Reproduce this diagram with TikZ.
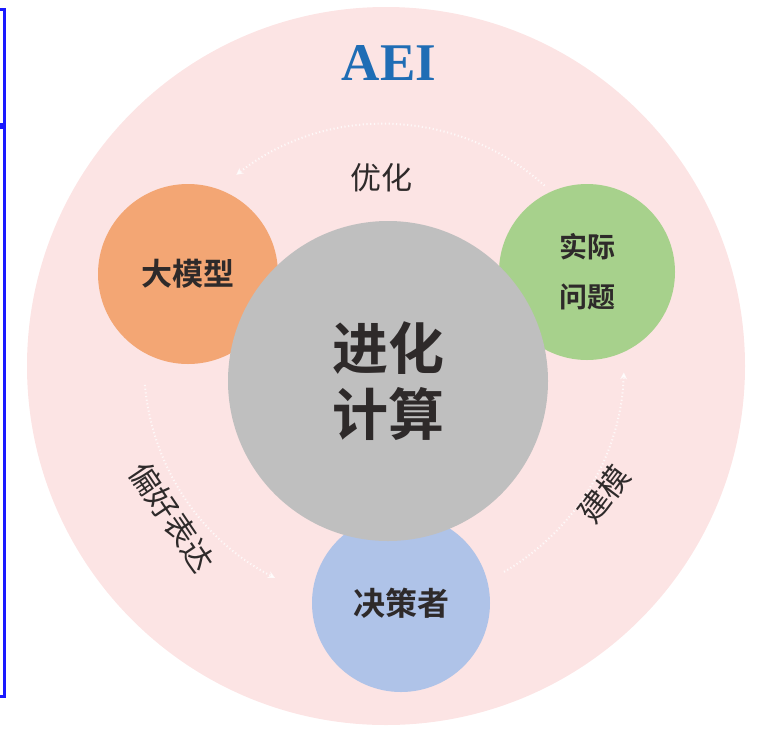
\documentclass[tikz,border=0pt]{standalone}
\usepackage{fontspec}
\setmainfont{Liberation Serif}
\newfontfamily\cjk{Noto Sans CJK SC}
\newfontfamily\cjkbold{Noto Sans CJK SC Bold}
\usetikzlibrary{arrows.meta}
\definecolor{bgpink}{HTML}{FCE4E4}
\definecolor{cgray}{HTML}{BFBFBF}
\definecolor{corange}{HTML}{F3A674}
\definecolor{cgreen}{HTML}{A7D18C}
\definecolor{cblue}{HTML}{AFC3E8}
\definecolor{aeiblue}{HTML}{1F6DB5}
\definecolor{boxblue}{HTML}{1A1AFF}
\definecolor{txt}{HTML}{2E2A2A}
\tikzset{
  bubble/.style={circle, inner sep=0pt, text=txt, align=center},
  flow/.style={white, opacity=0.75, line width=2pt, dash pattern=on 1.2pt off 2.5pt, -{Stealth[length=7pt,width=7pt]}},
  arclabel/.style={text=txt, font=\cjk\fontsize{31}{34}\selectfont}
}
\begin{document}
\begin{tikzpicture}[x=1pt,y=-1pt]
\useasboundingbox (0,0) rectangle (763,732);
% blue frames at left
\draw[boxblue, line width=3pt] (-5,9) -- (4,9) -- (4,124) -- (-5,124);
\draw[boxblue, line width=3pt] (-5,127.5) -- (4,127.5) -- (4,696) -- (-5,696);
% big background circle
\node[bubble, fill=bgpink, minimum size=718pt] (bg) at (386,366) {};
\node[text=aeiblue, font=\bfseries\fontsize{53}{56}\selectfont] (aei) at (389,63) {AEI};
% dotted cycle arcs
\coordinate (c) at (384,364);
\draw[flow] ([shift={(-48:240)}]c) arc[start angle=-48, end angle=-128, radius=240];
\draw[flow] ([shift={(-185:240)}]c) arc[start angle=-185, end angle=-243, radius=240];
\draw[flow] ([shift={(-300:240)}]c) arc[start angle=-300, end angle=-358, radius=240];
% outer nodes
\node[bubble, fill=corange, minimum size=180pt, font=\cjkbold\fontsize{31}{36}\selectfont] (llm) at (188,274) {大模型};
\node[bubble, fill=cgreen, minimum size=176pt, font=\cjkbold\fontsize{28}{50}\selectfont] (prob) at (587,272) {实际\\问题};
\node[bubble, fill=cblue, minimum size=178pt, font=\cjkbold\fontsize{32}{36}\selectfont] (dm) at (401,603) {决策者};
% central node
\node[bubble, fill=cgray, minimum size=320pt, font=\cjkbold\fontsize{56}{66}\selectfont] (ec) at (388,381) {进化\\计算};
% arc labels
\node[arclabel] (opt) at (381,178) {优化};
\node[arclabel, rotate=-56] (pref) at (172,517) {偏好表达};
\node[arclabel, rotate=53] (model) at (604,494) {建模};
\end{tikzpicture}
\end{document}
